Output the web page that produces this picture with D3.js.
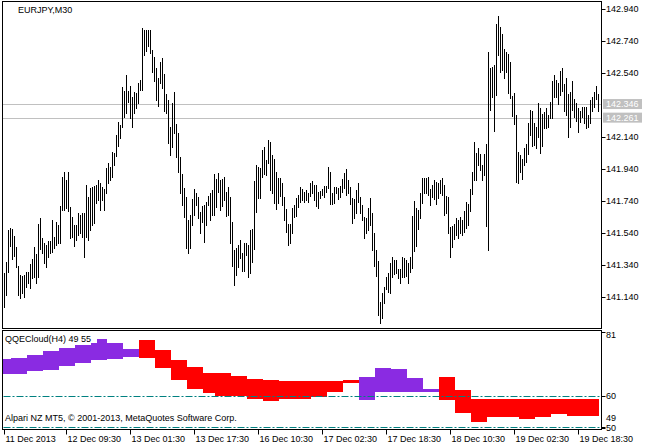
<!DOCTYPE html>
<html lang="en">
<head>
<meta charset="UTF-8">
<title>EURJPY,M30</title>
<script src="https://d3js.org/d3.v7.min.js"></script>
<style>
  body { margin: 0; background: #fff; }
  svg { display: block; font-family: "Liberation Sans", Arial, sans-serif; font-size: 9px; }
</style>
</head>
<body>
<div id="chart"></div>
<script>

	// M30 bars, high / low
	var highs = [141.288,141.361,141.559,141.569,141.563,141.521,141.450,141.334,141.277,141.271,
	 141.277,141.298,141.298,141.346,141.375,141.450,141.409,141.596,141.631,141.506,
	 141.475,141.465,141.492,141.492,141.621,141.517,141.611,141.590,141.709,141.888,
	 141.923,141.871,141.923,141.704,141.642,141.590,141.590,141.667,141.652,141.667,
	 141.667,141.840,141.767,141.819,141.829,141.834,141.840,141.871,141.854,141.829,
	 141.813,141.944,141.979,141.954,142.048,142.038,142.152,142.236,142.215,142.450,
	 142.429,142.527,142.429,142.459,142.392,142.423,142.413,142.475,142.496,142.819,
	 142.809,142.809,142.809,142.809,142.684,142.642,142.569,142.506,142.611,142.631,
	 142.534,142.409,142.371,142.204,142.350,142.423,142.221,142.167,142.013,141.909,
	 141.819,141.767,141.621,141.652,141.750,141.813,141.788,141.767,141.673,141.709,
	 141.715,141.736,141.771,141.788,141.809,141.909,141.875,141.913,141.871,141.875,
	 141.892,141.798,141.829,141.767,141.611,141.434,141.444,141.465,141.496,141.413,
	 141.475,141.475,141.465,141.559,141.563,141.867,141.965,141.954,141.944,142.059,
	 142.079,141.996,142.121,142.111,142.027,142.000,141.923,141.881,141.881,141.854,
	 141.767,141.688,141.596,141.596,141.694,141.715,141.756,141.777,141.829,141.813,
	 141.798,141.809,141.788,141.854,141.865,141.840,141.840,141.798,141.804,141.813,
	 141.834,141.834,141.954,141.923,141.792,141.825,141.829,141.819,141.834,141.875,
	 141.917,141.938,141.871,141.829,141.756,141.750,141.809,141.854,141.767,141.715,
	 141.642,141.631,141.694,141.756,141.663,141.538,141.434,141.367,141.111,141.163,
	 141.204,141.267,141.288,141.350,141.392,141.371,141.371,141.313,141.313,141.388,
	 141.381,141.371,141.350,141.388,141.646,141.742,141.694,141.684,141.788,141.881,
	 141.881,141.881,141.888,141.813,141.840,141.871,141.861,141.854,141.871,141.881,
	 141.840,141.771,141.767,141.579,141.584,141.596,141.631,141.621,141.642,141.621,
	 141.679,141.736,141.721,141.813,141.923,142.111,142.038,142.069,142.034,141.965,
	 142.034,142.096,142.673,142.569,142.579,142.590,142.846,142.896,142.829,142.784,
	 142.688,142.673,142.659,142.611,142.396,142.413,142.277,142.048,142.027,142.000,
	 142.069,142.096,142.225,142.309,142.304,142.229,142.204,142.350,142.319,142.284,
	 142.298,142.319,142.277,142.361,142.492,142.527,142.496,142.479,142.554,142.569,
	 142.471,142.506,142.409,142.423,142.492,142.375,142.354,142.319,142.304,142.325,
	 142.325,142.329,142.277,142.371,142.392,142.423,142.459,142.409];

	var lows = [141.075,141.152,141.298,141.459,141.375,141.396,141.329,141.152,141.136,141.163,
	 141.142,141.204,141.225,141.194,141.256,141.267,141.225,141.267,141.438,141.413,
	 141.350,141.329,141.392,141.413,141.423,141.444,141.465,141.475,141.475,141.684,
	 141.684,141.694,141.679,141.506,141.517,141.459,141.496,141.527,141.538,141.517,
	 141.392,141.517,141.496,141.559,141.590,141.600,141.725,141.746,141.684,141.746,
	 141.684,141.788,141.854,141.871,141.892,141.965,142.021,142.084,142.131,142.204,
	 142.263,142.288,142.361,142.256,142.204,142.288,142.319,142.354,142.434,142.434,
	 142.652,142.679,142.709,142.663,142.548,142.492,142.371,142.334,142.475,142.444,
	 142.304,142.288,142.104,142.027,142.079,142.163,142.017,141.923,141.792,141.715,
	 141.638,141.444,141.417,141.444,141.590,141.652,141.715,141.631,141.542,141.611,
	 141.486,141.590,141.715,141.621,141.652,141.652,141.700,141.798,141.684,141.709,
	 141.746,141.646,141.652,141.475,141.334,141.215,141.277,141.329,141.381,141.304,
	 141.304,141.402,141.267,141.288,141.361,141.438,141.673,141.756,141.756,141.888,
	 141.909,141.902,141.979,141.809,141.788,141.725,141.688,141.725,141.771,141.715,
	 141.621,141.548,141.465,141.479,141.538,141.642,141.646,141.704,141.736,141.746,
	 141.736,141.746,141.736,141.771,141.792,141.746,141.709,141.694,141.756,141.777,
	 141.763,141.798,141.819,141.721,141.721,141.729,141.788,141.750,141.767,141.798,
	 141.819,141.777,141.788,141.721,141.600,141.631,141.663,141.736,141.663,141.621,
	 141.506,141.538,141.559,141.590,141.434,141.334,141.271,141.027,140.979,141.006,
	 141.100,141.188,141.173,141.163,141.267,141.284,141.292,141.256,141.229,141.267,
	 141.267,141.271,141.225,141.298,141.319,141.429,141.459,141.563,141.631,141.729,
	 141.792,141.792,141.777,141.715,141.767,141.750,141.721,141.756,141.788,141.777,
	 141.652,141.663,141.538,141.392,141.450,141.500,141.527,141.506,141.538,141.527,
	 141.548,141.569,141.590,141.679,141.783,141.871,141.871,141.965,141.934,141.871,
	 141.902,141.584,141.434,142.309,142.392,142.179,142.402,142.652,142.548,142.559,
	 142.506,142.548,142.417,142.381,142.271,142.221,141.861,141.854,141.923,141.875,
	 141.965,141.986,142.034,142.152,142.084,142.090,142.069,142.138,142.038,142.084,
	 142.194,142.194,142.200,142.256,142.256,142.392,142.392,142.346,142.402,142.429,
	 142.304,142.277,142.138,142.200,142.309,142.267,142.242,142.173,142.236,142.267,
	 142.225,142.194,142.204,142.225,142.304,142.329,142.375,142.304];

	// price axis
	var priceTicks = [142.94, 142.74, 142.54, 142.14, 141.94, 141.74, 141.54, 141.34, 141.14];
	var priceLines = [142.346, 142.261];

	// time axis (bar index of each label)
	var timeTickBars = [0, 31, 63, 95, 127, 159, 191, 223, 255, 287];
	var timeLabels = ["11 Dec 2013", "12 Dec 09:30", "13 Dec 01:30", "13 Dec 17:30", "16 Dec 10:30",
	                  "17 Dec 02:30", "17 Dec 18:30", "18 Dec 10:30", "19 Dec 02:30", "19 Dec 18:30"];

	// QQECloud(H4): first M30 bar of each step, fast and slow line
	var cloudStart = [0,4,12,20,28,36,44,47,52,60,68,76,84,92,100,106,114,122,130,138,146,154,162,170,
	                  178,186,194,202,210,218,226,234,242,250,258,266,274,282,290];
	var qqeFast = [72.2,72.5,73.5,74.8,75.8,76.8,77.4,78.7,77.4,75.5,
	               72.6,69.3,65.3,62.4,61.1,60.1,60.1,59.1,58.6,59.1,59.1,59.8,61.5,64.4,
	               66.4,69.2,68.8,66.1,62.4,
	               58.8,54.7,51.7,53.4,53.4,52.6,53.4,54.2,53.7,53.7];
	var qqeSlow = [67.3,67.3,68.3,68.6,69.9,70.9,71.9,71.9,72.2,72.8,
	               78.4,75.1,71.9,69.6,67.6,67.6,66.6,65.7,65.3,65.1,65.1,65.1,65.1,65.3,
	               58.8,61.5,61.5,61.5,61.5,
	               66.2,62.1,59.1,59.1,59.1,59.1,59.1,59.1,59.1,59.1];
	var levels = [60, 50];
	var subTicks = [81, 60, 50, 49];

	var W = 649, H = 447;
	var left = 2.5, right = 601.5;
	var mainTop = 1.5, mainBottom = 328.5;
	var subTop = 330.5, subBottom = 429.5;

	var svg = d3.select("#chart")
	  .append("svg")
		.attr("width", W)
		.attr("height", H);

	svg.append("rect").attr("width", W).attr("height", H).attr("fill", "#fff");

	var n = highs.length;
	var x = d3.scaleLinear()
	  .domain([0, n - 1])
	  .range([4.5, 4.5 + 2 * (n - 1)]);

	var y = d3.scaleLinear()
	  .domain([141.14, 142.94])
	  .range([297, 9]);

	var sy = d3.scaleLinear()
	  .domain([49, 81])
	  .range([430, 332]);

	// clip paths
	var defs = svg.append("defs");
	defs.append("clipPath").attr("id", "clipMain")
	  .append("rect").attr("x", left).attr("y", mainTop).attr("width", right - left).attr("height", mainBottom - mainTop);
	defs.append("clipPath").attr("id", "clipSub")
	  .append("rect").attr("x", left).attr("y", subTop).attr("width", right - left).attr("height", subBottom - subTop);

	// ---- main window ----
	var main = svg.append("g").attr("clip-path", "url(#clipMain)");

	main.selectAll("line.pl")
	  .data(priceLines)
	  .enter()
	  .append("line")
		.attr("x1", left).attr("x2", right)
		.attr("y1", function(d) { return Math.round(y(d)) + 0.5; })
		.attr("y2", function(d) { return Math.round(y(d)) + 0.5; })
		.attr("stroke", "#c0c0c0");

	main.selectAll("line.bar")
	  .data(highs)
	  .enter()
	  .append("line")
		.attr("x1", function(d, i) { return x(i); })
		.attr("x2", function(d, i) { return x(i); })
		.attr("y1", function(d) { return y(d); })
		.attr("y2", function(d, i) { return y(lows[i]) + 1; })
		.attr("stroke", "#000")
		.attr("shape-rendering", "crispEdges");

	svg.append("text")
	  .attr("x", 18).attr("y", 13)
	  .text("EURJPY,M30");

	// price axis
	var pAxis = svg.append("g");
	pAxis.selectAll("line")
	  .data(priceTicks)
	  .enter()
	  .append("line")
		.attr("x1", right).attr("x2", right + 4)
		.attr("y1", function(d) { return Math.round(y(d)) + 0.5; })
		.attr("y2", function(d) { return Math.round(y(d)) + 0.5; })
		.attr("stroke", "#000");
	pAxis.selectAll("text")
	  .data(priceTicks)
	  .enter()
	  .append("text")
		.attr("x", 606)
		.attr("y", function(d) { return y(d); })
		.attr("dy", "0.35em")
		.text(function(d) { return d.toFixed(3); });

	var pl = svg.selectAll("g.plabel")
	  .data(priceLines)
	  .enter()
	  .append("g");
	pl.append("rect")
		.attr("x", 603).attr("width", 39)
		.attr("y", function(d) { return y(d) - 5; })
		.attr("height", 10)
		.attr("fill", "#c0c0c0");
	pl.append("text")
		.attr("x", 606)
		.attr("y", function(d) { return y(d); })
		.attr("dy", "0.35em")
		.attr("fill", "#fff")
		.text(function(d) { return d.toFixed(3); });

	// ---- QQECloud window ----
	var sub = svg.append("g").attr("clip-path", "url(#clipSub)");

	var steps = cloudStart.map(function(s, i) {
	  return {
		start: s,
		end: i < cloudStart.length - 1 ? cloudStart[i + 1] : n,
		fast: qqeFast[i],
		slow: qqeSlow[i]
	  };
	});

	sub.selectAll("rect.cloud")
	  .data(steps)
	  .enter()
	  .append("rect")
		.attr("x", function(d) { return x(d.start) - 1.5; })
		.attr("width", function(d) { return x(d.end) - x(d.start); })
		.attr("y", function(d) { return Math.round(sy(Math.max(d.fast, d.slow))); })
		.attr("height", function(d) { return Math.round(sy(Math.min(d.fast, d.slow))) - Math.round(sy(Math.max(d.fast, d.slow))); })
		.attr("fill", function(d) { return d.fast > d.slow ? "#8a2be2" : "#ff0000"; })
		.attr("shape-rendering", "crispEdges");

	sub.selectAll("line.level")
	  .data(levels)
	  .enter()
	  .append("line")
		.attr("x1", left + 1).attr("x2", right - 1)
		.attr("y1", function(d) { return Math.round(sy(d)) + 0.5; })
		.attr("y2", function(d) { return Math.round(sy(d)) + 0.5; })
		.attr("stroke", "#008080")
		.attr("stroke-dasharray", "7,2,2,2");

	svg.append("text")
	  .attr("x", 5).attr("y", 342)
	  .text("QQECloud(H4) 49 55");

	svg.append("text")
	  .attr("x", 5).attr("y", 421)
	  .text("Alpari NZ MT5, \u00a9 2001-2013, MetaQuotes Software Corp.");

	var sAxis = svg.append("g");
	sAxis.selectAll("line")
	  .data(subTicks)
	  .enter()
	  .append("line")
		.attr("x1", right).attr("x2", right + 4)
		.attr("y1", function(d) { return Math.min(Math.round(sy(d)), 428) + 0.5; })
		.attr("y2", function(d) { return Math.min(Math.round(sy(d)), 428) + 0.5; })
		.attr("stroke", "#000");
	sAxis.selectAll("text")
	  .data(subTicks)
	  .enter()
	  .append("text")
		.attr("x", 606)
		.attr("y", function(d) {
		  var v = sy(d);
		  if (d === 81) v += 3;
		  if (d === 49) v -= 12.5;
		  if (d === 50) v += 1;
		  return v;
		})
		.attr("dy", "0.35em")
		.text(function(d) { return d; });

	// frames
	svg.append("rect")
	  .attr("x", left).attr("y", mainTop)
	  .attr("width", right - left).attr("height", mainBottom - mainTop)
	  .attr("fill", "none").attr("stroke", "#000");
	svg.append("rect")
	  .attr("x", left).attr("y", subTop)
	  .attr("width", right - left).attr("height", subBottom - subTop)
	  .attr("fill", "none").attr("stroke", "#000");

	// time axis
	var tAxis = svg.append("g");
	tAxis.selectAll("line")
	  .data(timeTickBars)
	  .enter()
	  .append("line")
		.attr("x1", function(d) { return x(d); })
		.attr("x2", function(d) { return x(d); })
		.attr("y1", subBottom).attr("y2", subBottom + 5)
		.attr("stroke", "#000");
	tAxis.selectAll("text")
	  .data(timeTickBars)
	  .enter()
	  .append("text")
		.attr("x", function(d) { return x(d) + 1; })
		.attr("y", 442)
		.text(function(d, i) { return timeLabels[i]; });

</script>
</body>
</html>
